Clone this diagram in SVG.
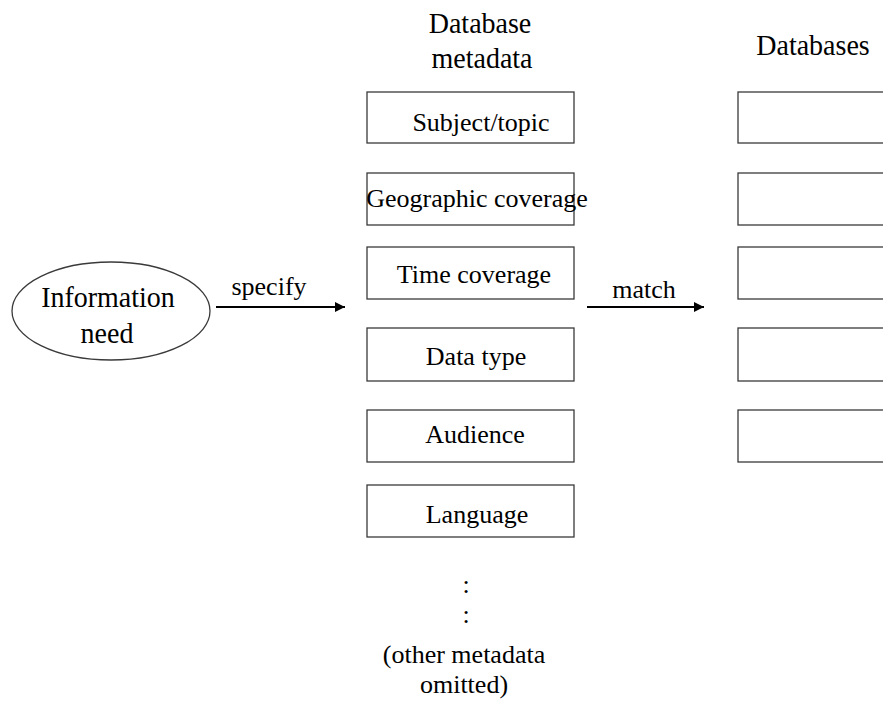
<svg xmlns="http://www.w3.org/2000/svg" width="883" height="708" viewBox="0 0 883 708">
  <style>
    text { font-family: "Liberation Serif", "Times New Roman", serif; fill: #000; }
    .head { font-size: 28px; text-anchor: middle; }
    .lbl { font-size: 26px; text-anchor: middle; }
    .box { fill: #fff; stroke: #3a3a3a; stroke-width: 1.3; }
    .edge { stroke: #000; stroke-width: 2; fill: none; }
  </style>
  <defs>
    <marker id="arrow" viewBox="0 0 10 10" refX="10" refY="5" markerWidth="10" markerHeight="10" markerUnits="userSpaceOnUse" orient="auto">
      <path d="M0,0 L10,5 L0,10 z" fill="#000"/>
    </marker>
  </defs>
  <rect width="883" height="708" fill="#fff"/>

  <!-- column headings (slightly tall lettering) -->
  <g id="heading-metadata">
    <text class="head" transform="translate(480,33) scale(1,1.08)">Database</text>
    <text class="head" transform="translate(482,68) scale(1,1.08)">metadata</text>
  </g>
  <g id="heading-databases">
    <text class="head" transform="translate(813,55) scale(1,1.08)">Databases</text>
  </g>

  <!-- information need -->
  <g id="information-need">
    <ellipse cx="111" cy="311" rx="99" ry="49" fill="#fff" stroke="#3a3a3a" stroke-width="1.3"/>
    <text class="head" transform="translate(108,307) scale(1,1.05)">Information</text>
    <text class="head" transform="translate(107,343) scale(1,1.05)">need</text>
  </g>

  <!-- metadata boxes -->
  <g id="meta-subject">
    <rect class="box" x="367" y="92" width="207" height="51"/>
    <text class="lbl" x="481" y="131">Subject/topic</text>
  </g>
  <g id="meta-geographic">
    <rect class="box" x="367" y="173" width="207" height="52"/>
    <text class="lbl" x="477" y="207">Geographic coverage</text>
  </g>
  <g id="meta-time">
    <rect class="box" x="367" y="247" width="207" height="52"/>
    <text class="lbl" x="474" y="283">Time coverage</text>
  </g>
  <g id="meta-datatype">
    <rect class="box" x="367" y="328" width="207" height="53"/>
    <text class="lbl" x="476" y="365">Data type</text>
  </g>
  <g id="meta-audience">
    <rect class="box" x="367" y="410" width="207" height="52"/>
    <text class="lbl" x="475" y="443">Audience</text>
  </g>
  <g id="meta-language">
    <rect class="box" x="367" y="485" width="207" height="52"/>
    <text class="lbl" x="477" y="523">Language</text>
  </g>
  <g id="meta-more">
    <text class="lbl" x="466" y="593">:</text>
    <text class="lbl" x="466" y="623">:</text>
    <text class="lbl" x="464" y="663">(other metadata</text>
    <text class="lbl" x="464" y="693">omitted)</text>
  </g>

  <!-- database boxes -->
  <g id="db-1"><rect class="box" x="738" y="92" width="200" height="51"/></g>
  <g id="db-2"><rect class="box" x="738" y="173" width="200" height="52"/></g>
  <g id="db-3"><rect class="box" x="738" y="247" width="200" height="52"/></g>
  <g id="db-4"><rect class="box" x="738" y="328" width="200" height="53"/></g>
  <g id="db-5"><rect class="box" x="738" y="410" width="200" height="52"/></g>

  <!-- connectors -->
  <g id="connectors">
    <line class="edge" x1="216" y1="307" x2="345" y2="307" marker-end="url(#arrow)"/>
    <text class="lbl" x="269" y="295">specify</text>
    <line class="edge" x1="587" y1="307" x2="704" y2="307" marker-end="url(#arrow)"/>
    <text class="lbl" x="644" y="298">match</text>
  </g>
</svg>
